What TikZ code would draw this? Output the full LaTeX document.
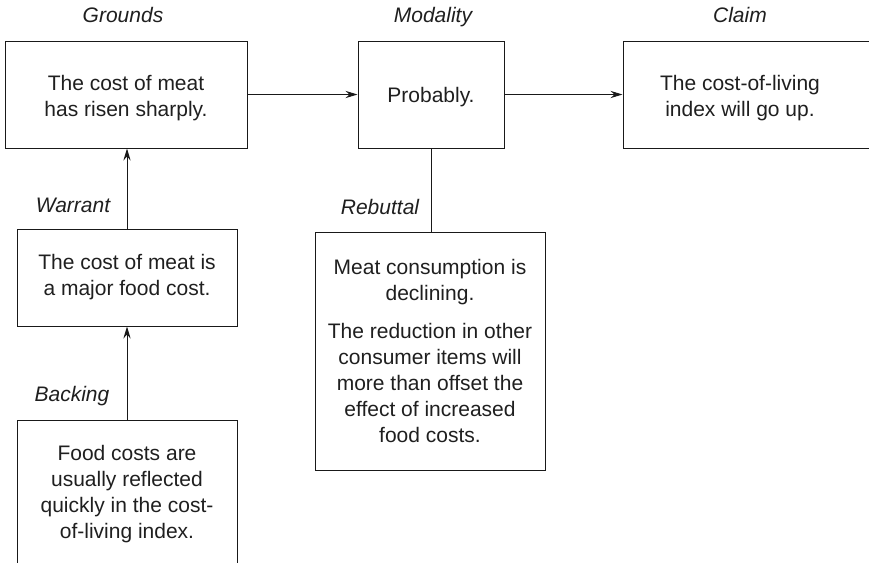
\documentclass[tikz,border=0pt]{standalone}
\usepackage{fontspec}
\setmainfont{Liberation Sans}
\usetikzlibrary{arrows.meta}

\begin{document}
\begin{tikzpicture}[
    >={Stealth[length=6pt,width=3.6pt,inset=2pt]},
    x=0.5pt,
    y=-0.5pt,
    font=\fontsize{10.5}{13}\selectfont,
    text=black!88,
    frame/.style={draw=black!90, line width=0.5pt, inner sep=0pt},
    box/.style={frame, align=center},
    words/.style={align=center},
    role/.style={anchor=base, font=\fontsize{10.5}{13}\selectfont\itshape},
    link/.style={draw=black!90, line width=0.5pt}
]

% parameters
\def\px{0.5pt}   % one pixel of the frame

\clip (0,0) rectangle (869,563);

% ---------------- top row ----------------
\node[frame, minimum width=242*\px, minimum height=107*\px] (groundsbox) at (126,94.5) {};
\node[words] (grounds) at (126,98) {The cost of meat\\has risen sharply.};
\node[frame, minimum width=146*\px, minimum height=107*\px] (modalitybox) at (431,94.5) {};
\node[words] (modality) at (431,97) {Probably.};
\node[frame, minimum width=257*\px, minimum height=107*\px] (claimbox) at (751.5,94.5) {};
\node[words] (claim) at (740,98) {The cost-of-living\\index will go up.};

\node[role] (groundslab) at (123,22) {Grounds};
\node[role] (modalitylab) at (433,22) {Modality};
\node[role] (claimlab) at (740,22) {Claim};

% ---------------- left column ----------------
\node[box, minimum width=220*\px, minimum height=97*\px] (warrant) at (127,277.5)
    {The cost of meat is\\a major food cost.};
\node[box, minimum width=220*\px, minimum height=148*\px] (backing) at (127,494)
    {Food costs are\\usually reflected\\quickly in the cost-\\of-living index.};

\node[role] (warrantlab) at (73,212) {Warrant};
\node[role] (backinglab) at (72,401) {Backing};

% ---------------- rebuttal ----------------
\node[box, minimum width=230*\px, minimum height=238*\px] (rebuttal) at (430,351)
    {Meat consumption is\\declining.\\[6pt]The reduction in other\\consumer items will\\more than offset the\\effect of increased\\food costs.};

\node[role] (rebuttallab) at (380,214) {Rebuttal};

% ---------------- connectors ----------------
\draw[link, ->] (groundsbox) -- (modalitybox);
\draw[link, ->] (modalitybox) -- (claimbox);
\draw[link, ->] (warrant.north) -- (warrant.north |- groundsbox.south);
\draw[link, ->] (backing.north) -- (warrant.south);
\draw[link] (modalitybox.south) -- (modalitybox.south |- rebuttal.north);

\end{tikzpicture}
\end{document}
